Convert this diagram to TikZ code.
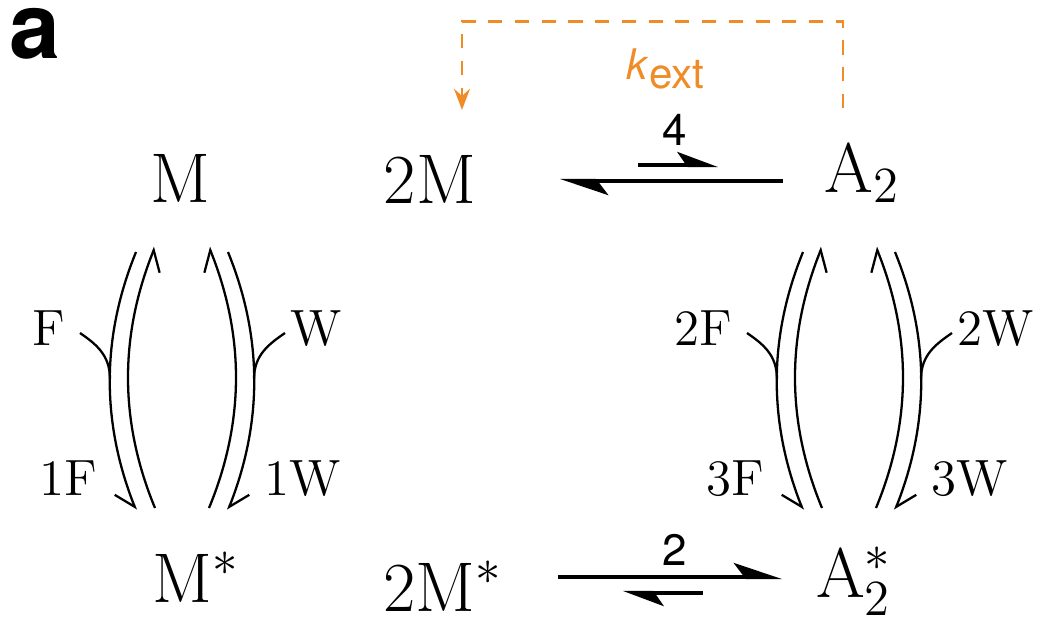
\documentclass[tikz,border=0pt]{standalone}
\usepackage{fontspec}
\newfontfamily\helv{TeX Gyre Heros}
\usepackage{tikz}
\usetikzlibrary{arrows.meta, bending}
\definecolor{extorange}{RGB}{240,140,40}

\begin{document}
\begin{tikzpicture}[
  x=0.01cm, y=-0.01cm,
  species/.style  = {inner sep=0pt, anchor=base, text depth=0pt,
                     font=\fontsize{20}{24}\selectfont},
  chan/.style     = {inner sep=0pt, font=\fontsize{14.5}{17}\selectfont},
  ratelbl/.style  = {inner sep=0pt, anchor=base, font=\helv\fontsize{12.5}{14}\selectfont},
  longeq/.style   = {line width=1.15pt, -{Stealth[harpoon, length=12pt, width=8pt, inset=3pt]}},
  shorteq/.style  = {line width=1.15pt, -{Stealth[harpoon, length=10pt, width=7.4pt, inset=2.5pt]}},
  flux/.style     = {line width=0.65pt, -{Straight Barb[harpoon, length=5.3pt, width=8pt]}},
  fluxsw/.style   = {line width=0.65pt, -{Straight Barb[harpoon, swap, length=5.3pt, width=8pt]}},
  feed/.style     = {line width=0.65pt},
  extarr/.style   = {extorange, line width=0.85pt, dash pattern=on 4pt off 3.6pt,
                     -{Stealth[length=6pt, width=4.5pt, inset=2pt]}},
]
\useasboundingbox (0,0) rectangle (1050,617);

% Coordinates are pixels of the 1050 x 617 frame, y running downwards
\node[inner sep=0pt, anchor=base west, text height=14pt, text depth=0pt,
      font=\helv\fontsize{26}{30}\selectfont\bfseries]
      (panel) at (9,58) {a};

% ── Species ────────────────────────────────────────────────────────────────
\node[species] (M)   at (180,202) {M};
\node[species] (M2)  at (430,203) {2M};
\node[species] (A2)  at (862,192) {A$_2$};
\node[species] (Ms)  at (196,602) {M$^*$};
\node[species] (M2s) at (443,611) {2M$^*$};
\node[species] (A2s) at (854,597) {A$_2^*$};

% ── Dimerisation equilibria ───────────────────────────────────────────────
\coordinate (dimL)  at (560,181);
\coordinate (dimR)  at (783,181);
\coordinate (dimSL) at (638,165);
\coordinate (dimSR) at (718,165);
\draw[longeq]  (dimR)  -- (dimL);
\draw[shorteq] (dimSL) -- (dimSR);
\node[ratelbl] (k4) at (675,145) {4};

\coordinate (asmL)  at (558,577);
\coordinate (asmR)  at (782,577);
\coordinate (asmSL) at (623,593);
\coordinate (asmSR) at (703,593);
\draw[longeq]  (asmL)  -- (asmR);
\draw[shorteq] (asmSR) -- (asmSL);
\node[ratelbl] (k2) at (675,565) {2};

% ── External exchange ──────────────────────────────────────────────────────
\coordinate (extS) at (843,108);
\coordinate (extE) at (462,110);
\draw[extarr] (extS) |- (462,21) -- (extE);
\node[ratelbl, anchor=base west, text=extorange, font=\helv\fontsize{12}{14}\selectfont]
      (kext) at (626,79) {\textit{k}\raisebox{-2.8pt}{ext}};

% ── Activation cycles (F and W branches) ───────────────────────────────────
\foreach \cx/\g/\fa/\wa/\fb/\wb in {182/m/F/W/1F/1W, 849/a/2F/2W/3F/3W}{
  \begin{scope}[shift={(\cx,0)}]
    \coordinate (\g-olt) at (-46,252);  \coordinate (\g-olb) at (-46,510);
    \coordinate (\g-ilt) at (-27,247);  \coordinate (\g-ilb) at (-27,508);
    \coordinate (\g-irt) at (27,247);   \coordinate (\g-irb) at (27,508);
    \coordinate (\g-ort) at (46,252);   \coordinate (\g-orb) at (46,510);
    \coordinate (\g-fin) at (-102,333); \coordinate (\g-fj)  at (-72,379);
    \coordinate (\g-win) at (103,333);  \coordinate (\g-wj)  at (72,379);

    \draw[fluxsw] (\g-olt) .. controls +(-35,86) and +(-35,-86) .. (\g-olb);
    \draw[fluxsw] (\g-ilb) .. controls +(-36,-87) and +(-36,87) .. (\g-ilt);
    \draw[flux]   (\g-irb) .. controls +(36,-87) and +(36,87) .. (\g-irt);
    \draw[flux]   (\g-ort) .. controls +(35,86) and +(35,-86) .. (\g-orb);
    \draw[feed]   (\g-fin) .. controls +(16,11) and +(0,-24) .. (\g-fj);
    \draw[feed]   (\g-win) .. controls +(-16,11) and +(0,-24) .. (\g-wj);

    \node[chan, anchor=base east] (\g-fa) at (-116,345) {\fa};
    \node[chan, anchor=base west] (\g-wa) at (108,345)  {\wa};
    \node[chan, anchor=base east] (\g-fb) at (-84,495)  {\fb};
    \node[chan, anchor=base west] (\g-wb) at (82,495)   {\wb};
  \end{scope}
}

\end{tikzpicture}
\end{document}
